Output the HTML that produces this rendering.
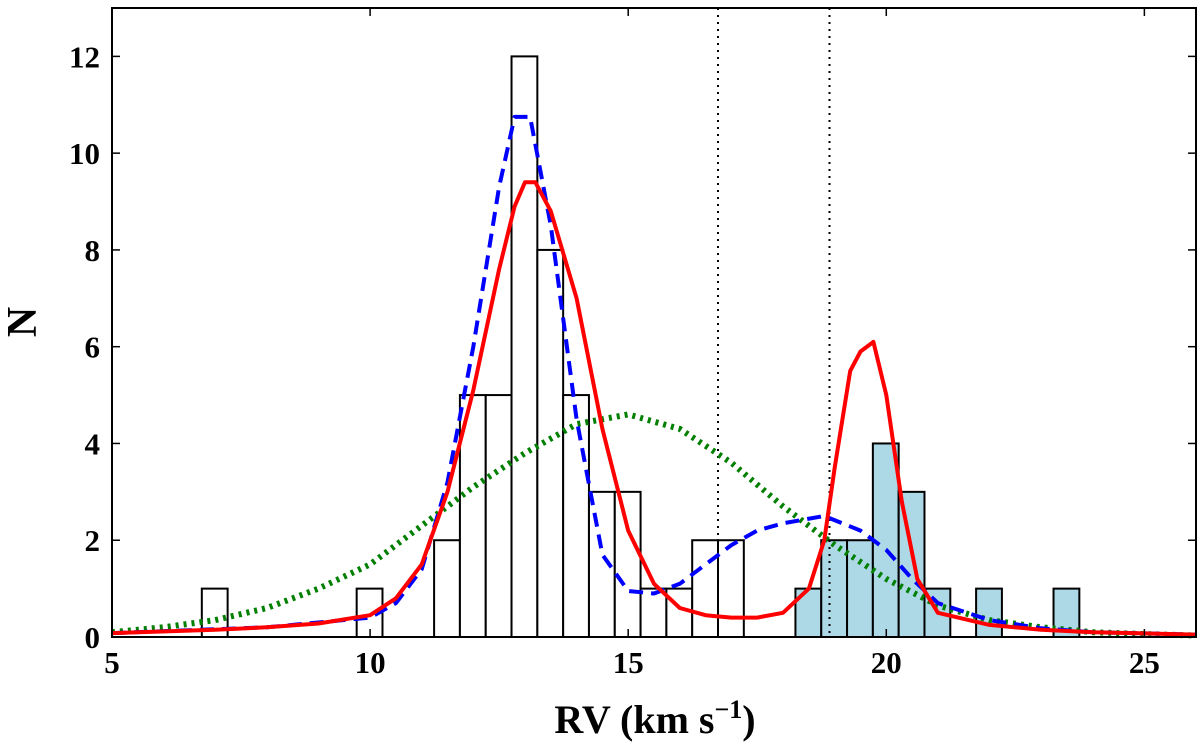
<!DOCTYPE html>
<html><head><meta charset="utf-8"><style>
body{margin:0;background:#fff;}
svg text{font-family:"Liberation Serif",serif;font-weight:bold;fill:#000;}
</style></head><body>
<svg id="chart" width="1200" height="743" xmlns="http://www.w3.org/2000/svg">
<g id="bars"></g>
<g id="curves"></g>
<g id="axes"></g>
</svg>
<script>
const binStarts=[6.74,9.74,11.24,11.74,12.24,12.74,13.24,13.74,14.24,14.74,15.24,15.74,16.24,16.74,18.24,18.74,19.24,19.74,20.24,20.74,21.74,23.24];
const binCounts=[1,1,2,5,5,12,8,5,3,3,1,1,2,2,1,2,2,4,3,1,1,1];
const binFilled=[0,0,0,0,0,0,0,0,0,0,0,0,0,0,1,1,1,1,1,1,1,1];
const binWidth=0.5;
const redX=[5,7,8,9,10,10.5,11,11.5,12,12.5,12.8,13,13.2,13.5,14,14.5,15,15.5,16,16.5,17,17.5,18,18.5,18.8,19,19.3,19.5,19.75,20,20.3,20.6,21,22,23,24,26];
const redY=[0.08,0.15,0.2,0.28,0.45,0.8,1.5,3,5.1,7.6,8.9,9.4,9.4,8.8,7.0,4.3,2.2,1.1,0.6,0.45,0.4,0.4,0.5,1.0,2,3.5,5.5,5.9,6.1,5,2.8,1.2,0.5,0.25,0.15,0.1,0.05];
const blueX=[5,8,10,10.5,11,11.5,12,12.5,12.8,13.1,13.5,14,14.5,15,15.5,16,16.5,17,17.5,18,18.8,19.5,20,20.5,21,22,23,24,26];
const blueY=[0.08,0.2,0.4,0.7,1.4,3.2,6,9.3,10.75,10.75,8.5,4.5,1.7,0.95,0.9,1.1,1.5,1.9,2.2,2.35,2.5,2.2,1.8,1.2,0.7,0.35,0.18,0.1,0.05];
const greenX=[5,6,7,8,9,10,11,12,13,14,15,16,17,18,19,20,21,22,23,24,25,26];
const greenY=[0.1,0.2,0.35,0.6,1.0,1.5,2.3,3.1,3.8,4.4,4.6,4.3,3.6,2.7,1.9,1.2,0.65,0.35,0.2,0.1,0.06,0.03];
const vlines=[16.74,18.9];
const xTicks=[5,10,15,20,25];
const yTicks=[0,2,4,6,8,10,12];

const L=112,R=1196,T=8,B=637,X0=5,X1=26,Y0=0,Y1=13;
const sx=v=>L+(v-X0)/(X1-X0)*(R-L);
const sy=v=>B-(v-Y0)/(Y1-Y0)*(B-T);
const NS="http://www.w3.org/2000/svg";
function mk(tag,attrs,parent){const e=document.createElementNS(NS,tag);for(const k in attrs)e.setAttribute(k,attrs[k]);parent.appendChild(e);return e;}
const gb=document.getElementById('bars'),gc=document.getElementById('curves'),ga=document.getElementById('axes');
binStarts.forEach((s,i)=>{
 const r=mk('rect',{x:sx(s),y:sy(binCounts[i]),width:sx(s+binWidth)-sx(s),height:sy(0)-sy(binCounts[i]),fill:binFilled[i]?'#add8e6':'#fff',stroke:'#000','stroke-width':2},gb);
 
 
});
vlines.forEach(v=>{
 const l=mk('line',{x1:sx(v),x2:sx(v),y1:T,y2:B,stroke:'#000','stroke-width':2,'stroke-dasharray':'2,5'},gc);
 
 
});
function curve(xs,ys,color,dash,w,name){
 const d=xs.map((x,i)=>(i?'L':'M')+sx(x).toFixed(1)+','+sy(ys[i]).toFixed(1)).join('');
 const p=mk('path',{d:d,fill:'none',stroke:color,'stroke-width':w,'stroke-dasharray':dash,'stroke-linejoin':'round'},gc);
 
 
}
curve(greenX,greenY,'#007f00','3,5',6,'single-gaussian-fit');
curve(blueX,blueY,'#0000ff','14,8',4,'two-gaussian-fit');
curve(redX,redY,'#ff0000','none',4,'model-fit');
const fr=mk('rect',{x:L,y:T,width:R-L,height:B-T,fill:'none',stroke:'#000','stroke-width':2},ga);


xTicks.forEach(v=>{
 mk('line',{x1:sx(v),x2:sx(v),y1:B,y2:B-8,stroke:'#000','stroke-width':1.5},ga);
 mk('line',{x1:sx(v),x2:sx(v),y1:T,y2:T+8,stroke:'#000','stroke-width':1.5},ga);
 const t=mk('text',{x:sx(v),y:B+36,'text-anchor':'middle','font-size':31},ga);t.textContent=v;
 
 
});
yTicks.forEach(v=>{
 mk('line',{x1:L,x2:L+8,y1:sy(v),y2:sy(v),stroke:'#000','stroke-width':1.5},ga);
 mk('line',{x1:R,x2:R-8,y1:sy(v),y2:sy(v),stroke:'#000','stroke-width':1.5},ga);
 const t=mk('text',{x:L-12,y:sy(v)+11,'text-anchor':'end','font-size':31},ga);t.textContent=v;
 
 
});
</script>
<svg style="position:absolute;left:0;top:0" width="1200" height="743" xmlns="http://www.w3.org/2000/svg">
<text x="655" y="733" text-anchor="middle" font-size="40" style="font-family:'Liberation Serif',serif;font-weight:bold">RV (km s<tspan dy="-15" font-size="26">−1</tspan><tspan dy="15">)</tspan></text>
<text transform="translate(36,322) rotate(-90)" text-anchor="middle" font-size="42" style="font-family:'Liberation Serif',serif;font-weight:bold">N</text>
</svg>
</body></html>
